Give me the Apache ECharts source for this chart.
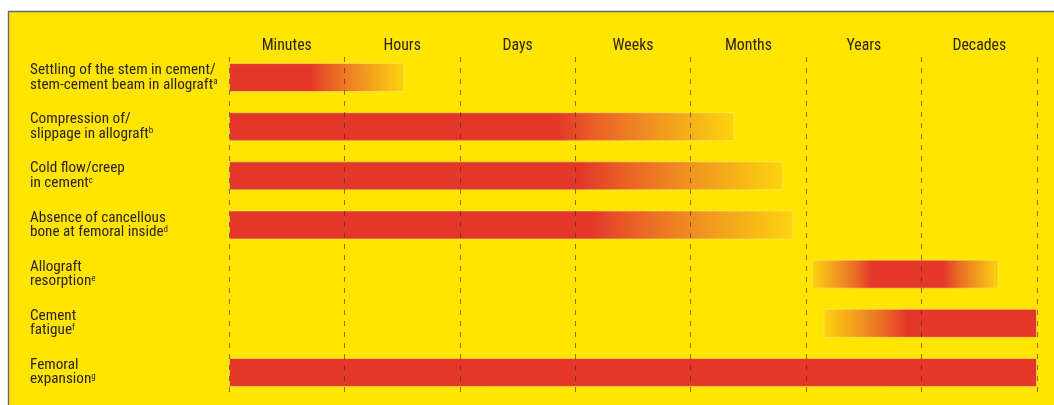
<!DOCTYPE html>
<html><head><meta charset="utf-8">
<script src="https://cdn.jsdelivr.net/npm/echarts@6/dist/echarts.min.js"></script>
<style>html,body{margin:0;padding:0;background:#fff}#c{width:1054px;height:405px}</style>
</head><body><div id="c"></div>
<script>
const periods = ['Minutes', 'Hours', 'Days', 'Weeks', 'Months', 'Years', 'Decades'];
const processes = [
  ['Settling of the stem in cement/', 'stem-cement beam in allograft'],
  ['Compression of/', 'slippage in allograft'],
  ['Cold flow/creep', 'in cement'],
  ['Absence of cancellous', 'bone at femoral inside'],
  ['Allograft', 'resorption'],
  ['Cement', 'fatigue'],
  ['Femoral', 'expansion']
];
const footnotes = ['a', 'b', 'c', 'd', 'e', 'f', 'g'];
// time span in period units (0 = start of Minutes, 7 = end of Decades)
const starts   = [0,    0,    0,    0,    5.05, 5.15, 0];
const ends     = [1.52, 4.38, 4.80, 4.89, 6.67, 7.00, 7.00];
const fullFrom = [0,    0,    0,    0,    5.57, 5.87, 0];
const fullTo   = [0.70, 2.84, 3.04, 3.13, 6.19, 7.00, 7.00];

const FONT = '"Roboto Condensed", "Liberation Sans", sans-serif';
const RED = '#E3372A';
const FADE = [[0, RED], [0.22, '#EA6126'], [0.5, '#EF8D21'], [1, '#FCD40F']];
function gradientFor(i) {
  const s = starts[i], e = ends[i], len = e - s;
  const stops = [];
  const a = (fullFrom[i] - s) / len, b = (fullTo[i] - s) / len;
  if (a > 0) {
    for (let k = FADE.length - 1; k >= 0; k--) stops.push({offset: a * (1 - FADE[k][0]), color: FADE[k][1]});
  } else stops.push({offset: 0, color: RED});
  stops.push({offset: b, color: RED});
  if (b < 1) {
    for (let k = 1; k < FADE.length; k++) stops.push({offset: b + (1 - b) * FADE[k][0], color: FADE[k][1]});
  } else stops.push({offset: 1, color: RED});
  return new echarts.graphic.LinearGradient(0, 0, 1, 0, stops);
}
const cats = processes.map((p, i) => i);
const TXT = '#2a2420';
const chart = echarts.init(document.getElementById('c'));
chart.setOption({
  animation: false,
  backgroundColor: '#fff',
  graphic: [{
    type: 'rect', z: -10, silent: true,
    shape: {x: 8.5, y: 11.5, width: 1200, height: 500},
    style: {fill: '#FFE500', stroke: '#6a6a6a', lineWidth: 1.4}
  }],
  grid: [{left: 229, right: 17, top: 53, bottom: 8}, {left: 229, right: 17, top: 57, bottom: 9}],
  xAxis: [
    {gridIndex: 0, type: 'value', min: 0, max: 7, interval: 1, show: false},
    {gridIndex: 1, type: 'value', min: 0, max: 7, interval: 1, z: 10,
     axisLabel: {show: false}, axisLine: {show: false}, axisTick: {show: false},
     splitLine: {show: true, lineStyle: {type: [5, 6], color: 'rgba(70,45,20,0.62)', width: 1}}},
    {gridIndex: 1, type: 'category', position: 'top', data: periods, boundaryGap: true,
     axisLine: {show: false}, axisTick: {show: false}, splitLine: {show: false},
     axisLabel: {margin: 3, fontSize: 15.8, color: TXT, fontFamily: FONT}}
  ],
  yAxis: [
    {gridIndex: 0, type: 'category', data: cats, inverse: true,
     axisLine: {show: false}, axisTick: {show: false}, splitLine: {show: false},
     axisLabel: {
       align: 'left', margin: 199,
       formatter: (v) => { const i = +v; return '{t|' + processes[i][0] + '}\n{t|' + processes[i][1] + '}{s|' + footnotes[i] + '}'; },
       rich: {
         t: {fontSize: 15.2, lineHeight: 14.5, color: TXT, fontFamily: FONT},
         s: {fontSize: 9, lineHeight: 9, color: TXT, fontFamily: FONT, verticalAlign: 'top'}
       }
     }},
    {gridIndex: 1, type: 'value', min: 0, max: 1, show: false}
  ],
  series: [
    {type: 'bar', stack: 'span', barWidth: 29, silent: true, itemStyle: {color: 'transparent'}, data: starts},
    {type: 'bar', stack: 'span', barWidth: 29, silent: true,
     data: ends.map((e, i) => ({value: e - starts[i], itemStyle: {color: gradientFor(i), borderColor: 'rgba(255,236,120,0.55)', borderWidth: 1}}))}
  ]
});
</script></body></html>
